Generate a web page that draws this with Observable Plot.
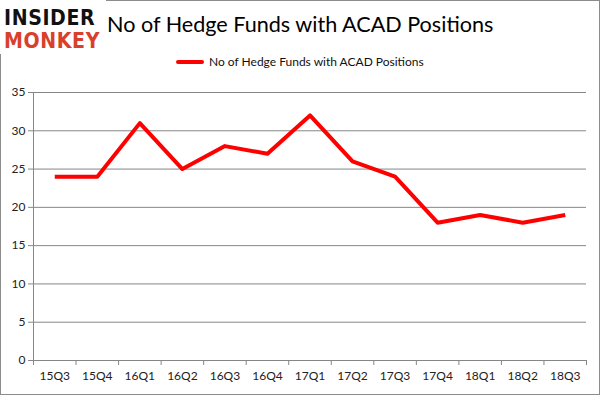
<!DOCTYPE html>
<html><head><meta charset="utf-8">
<script src="https://cdn.jsdelivr.net/npm/d3@7"></script>
<script src="https://cdn.jsdelivr.net/npm/@observablehq/plot@0.6"></script>
<style>
body{margin:0;background:#fff;}
#wrap{position:relative;width:601px;height:396px;font-family:Lato,"Open Sans",sans-serif;}
#border{position:absolute;left:0;top:0;width:598px;height:393px;border:1px solid #8c8c8c;}
#title{position:absolute;left:107px;top:11px;font-size:21.6px;color:#000;white-space:nowrap;}
#legend{position:absolute;left:176px;top:54px;font-size:12px;color:#111;display:flex;align-items:center;}
#legend span.sw{display:inline-block;width:28px;height:4px;background:#ff0000;margin-right:5px;border-radius:2px;}
#logo{position:absolute;left:0;top:0;width:106px;height:54px;background:#fff;font-family:"DejaVu Sans",sans-serif;font-weight:bold;}
#logo div{font-size:19px;line-height:21px;letter-spacing:0.6px;padding-left:4px;transform:scaleY(1.1);transform-origin:left top;}
#chart{position:absolute;left:0;top:0;}
</style></head>
<body>
<div id="wrap">
  <div id="border"></div>
  <div id="chart"></div>
  <div id="title">No of Hedge Funds with ACAD Positions</div>
  <div id="legend"><span class="sw"></span>No of Hedge Funds with ACAD Positions</div>
  <div id="logo"><div style="color:#111;margin-top:6px;">INSIDER</div><div style="color:#d9402b;margin-top:2px;">MONKEY</div></div>
</div>
<script>
const quarters = ["15Q3","15Q4","16Q1","16Q2","16Q3","16Q4","17Q1","17Q2","17Q3","17Q4","18Q1","18Q2","18Q3"];
const funds = [24,24,31,25,28,27,32,26,24,18,19,18,19];
const yTicks = [0,5,10,15,20,25,30,35];

const data = quarters.map((q,i)=>({i, q, v: funds[i]}));
const bounds = d3.range(quarters.length+1).map(k=>k-0.5);

const chart = Plot.plot({
  width: 601, height: 396,
  marginLeft: 33, marginRight: 15, marginTop: 92, marginBottom: 36,
  style: {fontFamily: "Lato, 'Open Sans', sans-serif", fontSize: "12px", color: "#222", background: "transparent"},
  x: {type: "linear", domain: [-0.5, quarters.length-0.5]},
  y: {domain: [0,35]},
  marks: [
    Plot.gridY(yTicks, {stroke: "#868686", strokeOpacity: 1}),
    Plot.axisY({ticks: yTicks, tickSize: 5, tickPadding: 3, stroke: "#868686", label: null, fill: "#222"}),
    Plot.ruleX([-0.5], {stroke: "#868686"}),
    Plot.ruleY([0], {stroke: "#868686"}),
    Plot.axisX({ticks: bounds, tickSize: 5, tickFormat: () => "", stroke: "#868686", label: null}),
    Plot.axisX({ticks: d3.range(quarters.length), tickSize: 0, tickPadding: 11, tickFormat: i => quarters[i], label: null, fill: "#222"}),
    Plot.line(data, {x: "i", y: "v", stroke: "#ff0000", strokeWidth: 4, strokeLinejoin: "round", strokeLinecap: "butt"})
  ]
});
document.getElementById("chart").appendChild(chart);
</script>
</body></html>
